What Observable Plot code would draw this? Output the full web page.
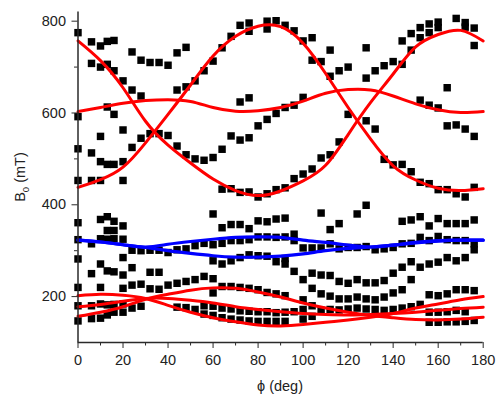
<!DOCTYPE html>
<html>
<head>
<meta charset="utf-8">
<script src="https://cdn.jsdelivr.net/npm/d3@7"></script>
<script src="https://cdn.jsdelivr.net/npm/@observablehq/plot@0.6"></script>
<style>
  html, body { margin: 0; padding: 0; background: #fff; }
  #chart { width: 497px; height: 399px; }
</style>
</head>
<body>
<div id="chart"></div>
<script>
// ---- measured points: each row is [phi, B0 values...] ----
const ptsUpper = [
  [0,775],[6,755,708],[10,746,700],[13,756,706],[16,758,692],[20,670],[24,733,650],[28,715,637],
  [32,710],[36,710],[40,704],[44,731,650],[48,743,657],[52,670],[56,692],[60,713],[64,742],
  [68,767],[72,791],[76,796,778],[84,800,783],[88,801],[92,791],[96,779],[100,757],[104,764,715],
  [108,712],[112,737,680],[116,692],[120,700],[128,742,676],[132,692],[136,703],[140,712],
  [144,757,706],[148,773,737],[152,786,764],[156,794,775],[160,798,786],[168,806],[172,797,787],
  [176,785,747]
];
const ptsMiddle = [
  [0,592,522,453],[6,513,453],[10,549,494,453],[13,613,488],[16,597,488],[20,563,494,453],
  [24,525],[28,545],[32,555],[36,555],[40,551],[44,528],[48,509],[52,500],[56,497],[60,503],
  [64,521,434],[68,550,435],[72,624,541,427],[76,633,546,428],[80,572,417],[84,586,424],
  [88,599,433],[92,612,437],[96,617,457],[100,634,467],[104,478],[108,502],[112,509],
  [116,537],[120,597],[128,583],[132,565],[136,499],[140,487],[144,488],[148,472],
  [152,628,449],[156,617,446],[160,611,433],[164,655,572,433],[168,574,424],[172,565,417],
  [176,549,438]
];
const ptsLower = [
  [0,361,324,282],[6,315],[10,368,326],[13,374,344,325],[16,364,344,326],[20,354,325,285],
  [24,301],[28,300],[32,301],[36,301],[40,296],[44,302],[48,304],[52,311],[56,316],
  [60,380,313,278],[64,350,316,271],[68,357,322,278],[72,357,322,285],[76,348,324,291],
  [80,365,330,289],[84,363,330,288],[88,369,329,276],[92,371,330,283,271],[96,336,322,255],
  [100,306],[104,306],[108,382,306],[112,346,315],[116,359,304],[120,307],[124,380,307],
  [128,399,309],[132,302],[136,304],[140,307],[144,364,315],[148,367,316],[152,374,329],
  [156,354,322],[160,370,331],[164,359,324],[168,359,322],[172,359,322],[176,367,315,302]
];
const ptsBottom = [
  [0,220,180,147],[6,250,180,152],[10,271,220,184,153],[13,256,182,160],[16,254,183,166],
  [20,247,218,184,166],[24,263,225,175],[28,227,179],[32,253,217],[36,253,216],[40,225],
  [44,229,177],[48,233,176],[52,237,172],[56,244,180,162],[60,239,208,179,159],[64,222,175,154],
  [68,222,173,151],[72,220,169,149],[76,218,168,147],[80,215,167,146],[84,209,167,146],
  [88,206,165,146],[92,202,166,146],[96,167],[100,237,193,172,151],[104,251,218,180,157],
  [108,247,206,170],[112,246,201,172],[116,233,195,171],[120,229,195,173],[124,237,199,175],
  [128,230,195,173],[132,230,193,172],[136,235,199,170],[140,251,208,172],[144,264,215,175],
  [148,276,237,178],[152,264,183],[156,271,204,166,144],[160,275,202,166,144],
  [164,285,206,167,145],[168,278,215,170,145],[172,285,215,167,146],[176,213,148]
];

// ---- fitted curves, read every 10 degrees ----
const curvePhi = [0,10,20,30,40,50,60,70,80,90,100,110,120,130,140,150,160,170,180];
const redA = [757,714,655,582,530,491,456,431,420,430,452,486,553,623,685,744,771,780,757];
const redB = [438,455,482,535,597,661,724,767,789,788,752,686,612,543,485,454,436,431,435];
const redC = [603,612,621,627,629,625,612,604,605,612,626,643,651,650,637,620,607,601,603];
const redD = [202,205,203,196,181,166,154,145,138,136,139,144,149,155,163,175,184,193,200];
const redE = [157,166,178,194,205,214,219,218,210,199,186,175,166,159,154,150,149,151,155];
const redF = [178,183,190,196,196,192,186,178,172,167,163,161,160,161,163,166,170,174,177];
const blueG = [323,319,313,308,314,320,325,329,330,329,323,318,312,308,312,318,322,323,323];
const blueH = [323,319,313,307,300,294,289,286,286,288,293,300,305,308,312,317,321,323,323];

const yMajor = [200,400,600,800];
const yMinor = [300,500,700];
const xMajor = [0,20,40,60,80,100,120,140,160,180];
const xMinor = [10,30,50,70,90,110,130,150,170];

const flat = rows => rows.flatMap(([x, ...ys]) => ys.map(y => ({x, y})));
const points = [ptsUpper, ptsMiddle, ptsLower, ptsBottom].flatMap(flat);
const toCurve = (vals, name) => vals.map((v, i) => ({x: curvePhi[i], y: v, name}));
const reds = [redA, redB, redC, redD, redE, redF].flatMap((c, k) => toCurve(c, "r" + k));
const blues = [blueG, blueH].flatMap((c, k) => toCurve(c, "b" + k));

const axisColor = "#2a2a2a";
const chart = Plot.plot({
  width: 497,
  height: 399,
  marginLeft: 77.5,
  marginRight: 14.3,
  marginTop: 11.5,
  marginBottom: 57,
  x: {domain: [0, 180]},
  y: {domain: [100, 820]},
  style: {fontFamily: "'Liberation Sans', Arial, sans-serif", fontSize: "14.5px", color: "#222", background: "#fff"},
  marks: [
    Plot.dot(points, {x: "x", y: "y", symbol: "square", r: 4.2, fill: "#000", stroke: "none"}),
    Plot.line(reds, {x: "x", y: "y", z: "name", stroke: "#ff0000", strokeWidth: 3, curve: "natural"}),
    Plot.line(blues, {x: "x", y: "y", z: "name", stroke: "#0000ff", strokeWidth: 3.2, curve: "natural"}),
    Plot.axisY({ticks: yMajor, tickSize: 6, tickPadding: 6, label: null, stroke: axisColor, fontSize: 14.5}),
    Plot.axisY({ticks: yMinor, tickSize: 3.5, text: null, label: null, stroke: axisColor}),
    Plot.axisX({ticks: xMajor, tickSize: 6, tickPadding: 6, label: null, stroke: axisColor, fontSize: 14.5}),
    Plot.axisX({ticks: xMinor, tickSize: 3.5, text: null, label: null, stroke: axisColor}),
    Plot.ruleX([0], {stroke: axisColor, strokeWidth: 1.5}),
    Plot.ruleY([100], {stroke: axisColor, strokeWidth: 1.5})
  ]
});

const svg = d3.select(chart);
svg.append("text")
  .attr("x", 280).attr("y", 391)
  .attr("text-anchor", "middle")
  .attr("font-size", 14.5)
  .attr("fill", "#222")
  .text("ϕ (deg)");
const yl = svg.append("text")
  .attr("transform", "translate(25,177) rotate(-90)")
  .attr("text-anchor", "middle")
  .attr("font-size", 14.5)
  .attr("fill", "#222");
yl.append("tspan").text("B");
yl.append("tspan").attr("font-size", 9.5).attr("dy", 3.5).text("0");
yl.append("tspan").attr("dy", -3.5).text(" (mT)");

document.getElementById("chart").appendChild(chart);
</script>
</body>
</html>
